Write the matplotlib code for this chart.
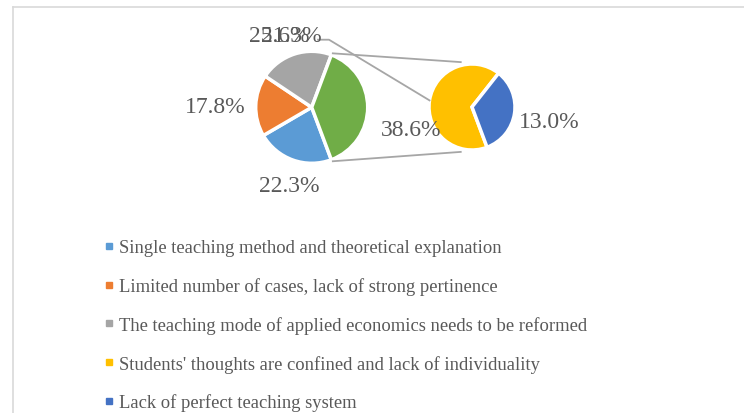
import numpy as np
import matplotlib
matplotlib.use("Agg")
import matplotlib.pyplot as plt
from matplotlib.lines import Line2D

# Data (Excel pie-of-pie: last two items go to the secondary pie)
categories = [
    "Single teaching method and theoretical explanation",
    "Limited number of cases, lack of strong pertinence",
    "The teaching mode of applied economics needs to be reformed",
    "Students' thoughts are confined and lack of individuality",
    "Lack of perfect teaching system",
]
shares = [22.3, 17.8, 21.3, 25.6, 13.0]
colors = ["#5B9BD5", "#ED7D31", "#A5A5A5", "#FFC000", "#4472C4"]
other_color = "#70AD47"
n_secondary = 2

main_vals = shares[:-n_secondary] + [sum(shares[-n_secondary:])]
sec_vals = shares[-n_secondary:]

W, H = 744, 414
plt.rcParams["font.family"] = ["Liberation Serif", "DejaVu Serif"]
txt_color = "#595959"
line_color = "#A6A6A6"

fig = plt.figure(figsize=(W / 100, H / 100), dpi=100)
ax = fig.add_axes([0, 0, 1, 1])

# geometry in pixel-like data units (y measured from bottom)
c_main, r_main = (311.7, 305.7), 56
c_sec, r_sec = (472.0, 306.0), 43

half = 360 * main_vals[-1] / sum(main_vals) / 2
wp = dict(edgecolor="white", linewidth=2.5)
ax.pie(main_vals, colors=colors[:-n_secondary] + [other_color], center=c_main,
       radius=r_main, startangle=-half, counterclock=False, wedgeprops=wp,
       frame=True)
ax.pie(sec_vals, colors=colors[-n_secondary:], center=c_sec, radius=r_sec,
       startangle=-half, counterclock=False, wedgeprops=wp, frame=True)

# connector lines between the two pies
for sgn in (1, -1):
    a1 = np.radians(sgn * half)
    a2 = np.radians(sgn * 103)
    p1 = (c_main[0] + r_main * 1.03 * np.cos(a1), c_main[1] + r_main * 1.03 * np.sin(a1))
    p2 = (c_sec[0] + r_sec * 1.07 * np.cos(a2), c_sec[1] + r_sec * 1.07 * np.sin(a2))
    ax.plot([p1[0], p2[0]], [p1[1], p2[1]], color=line_color, lw=1.3,
            solid_capstyle="butt")

# leader line for the yellow label (pulled up to the top)
ya = np.radians(-half - 360 * sec_vals[0] / sum(sec_vals) / 2)
yp = (c_sec[0] + r_sec * np.cos(ya), c_sec[1] + r_sec * np.sin(ya))
ax.plot([318, 329, yp[0]], [373.3, 373.3, yp[1]], color=line_color, lw=1.3)

# data labels (yellow and gray labels overlap in the original)
lab_pos = [(289, 228), (215, 306.5), (291, 378), (279, 378), (549, 291)]
for (x, y), v in zip(lab_pos, shares):
    ax.text(x, y, f"{v:.1f}%", ha="center", va="center", fontsize=17,
            color=txt_color)
ax.text(411, 283, f"{main_vals[-1]:.1f}%", ha="center", va="center",
        fontsize=17, color=txt_color)

ax.set_xlim(0, W)
ax.set_ylim(0, H)
ax.set_aspect("equal")
ax.axis("off")

# legend
handles = [Line2D([], [], ls="none", marker="s", markersize=4.5,
                  markerfacecolor=c, markeredgecolor=c) for c in colors]
fig.legend(handles, categories, loc="upper left",
           bbox_to_anchor=(97 / W, 1 - 233 / H), frameon=False,
           fontsize=13.4, labelcolor=txt_color, handlelength=0.5,
           handletextpad=0.3, labelspacing=1.12, borderaxespad=0)

# chart area border (partially cropped)
fig.add_artist(Line2D([12.5 / W, 12.5 / W], [0, 1 - 8 / H], color="#D9D9D9",
                      lw=1.2, transform=fig.transFigure))
fig.add_artist(Line2D([12.5 / W, 1], [1 - 8 / H, 1 - 8 / H], color="#D9D9D9",
                      lw=1.2, transform=fig.transFigure))

fig.savefig("out.png", dpi=100)
